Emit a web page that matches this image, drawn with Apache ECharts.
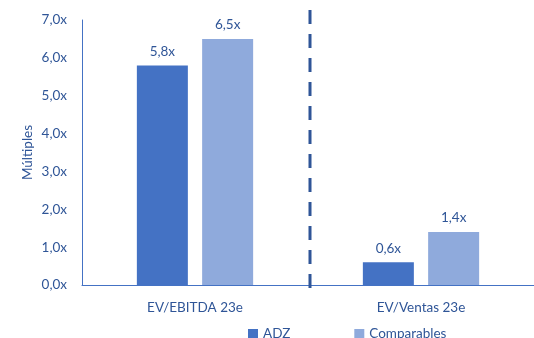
<!DOCTYPE html>
<html><head><meta charset="utf-8">
<script src="https://cdn.jsdelivr.net/npm/echarts@6/dist/echarts.min.js"></script>
<style>html,body{margin:0;padding:0;background:#fff}#c{width:534px;height:338px}</style>
</head><body><div id="c"></div>
<script>
const categories = ['EV/EBITDA 23e', 'EV/Ventas 23e'];
const adz = [5.8, 0.6];
const comparables = [6.5, 1.4];
const seriesNames = ['ADZ', 'Comparables'];
const yTitle = 'Múltiples';
const dividerPos = [1];

const txt = '#2F5597';
const font = 'Lato';
const chart = echarts.init(document.getElementById('c'));
const fmt = v => v.toFixed(1).replace('.', ',') + 'x';
chart.setOption({
  animation: false,
  textStyle: { fontFamily: font },
  grid: { left: 82, right: 0, top: 20, bottom: 53 },
  legend: {
    left: 243, bottom: -8, itemWidth: 10, itemHeight: 10, itemGap: 64, icon: 'rect',
    textStyle: { color: txt, fontSize: 13.5, fontFamily: font },
    data: seriesNames
  },
  xAxis: [{
    type: 'category', data: categories,
    axisLine: { lineStyle: { color: '#4472C4', width: 1 } },
    axisTick: { show: false },
    axisLabel: { color: txt, fontSize: 13.5, margin: 16, fontFamily: font }
  }, {
    type: 'value', min: 0, max: 2, show: false
  }],
  yAxis: {
    type: 'value', min: 0, max: 7, interval: 1,
    name: yTitle, nameLocation: 'middle', nameGap: 47, nameMoveOverlap: false,
    nameTextStyle: { color: txt, fontSize: 13.5, fontFamily: font },
    axisLine: { show: true, lineStyle: { color: '#4472C4', width: 1 } },
    axisTick: { show: false },
    splitLine: { show: false },
    axisLabel: { color: txt, fontSize: 13.5, margin: 15, formatter: fmt, fontFamily: font }
  },
  series: [{
    name: seriesNames[0], type: 'bar', data: adz, barWidth: 51, barGap: '28%',
    itemStyle: { color: '#4472C4' },
    label: { show: true, position: 'top', distance: 7, color: txt, fontSize: 13.5, formatter: p => fmt(p.value), fontFamily: font }
  }, {
    name: seriesNames[1], type: 'bar', data: comparables, barWidth: 51,
    itemStyle: { color: '#8FAADC' },
    label: { show: true, position: 'top', distance: 7, color: txt, fontSize: 13.5, formatter: p => fmt(p.value), fontFamily: font }
  }, {
    type: 'custom', xAxisIndex: 1, clip: false, silent: true,
    data: dividerPos.map(v => [v, 0]),
    renderItem: (params, api) => {
      const x = api.coord([api.value(0), 0])[0] + 2;
      const top = params.coordSys.y - 10;
      const bot = params.coordSys.y + params.coordSys.height + 8;
      return { type: 'line', shape: { x1: x, y1: top, x2: x, y2: bot },
        style: { stroke: '#2F5597', lineWidth: 3, lineDash: [14, 10] } };
    }
  }]
});
</script></body></html>
